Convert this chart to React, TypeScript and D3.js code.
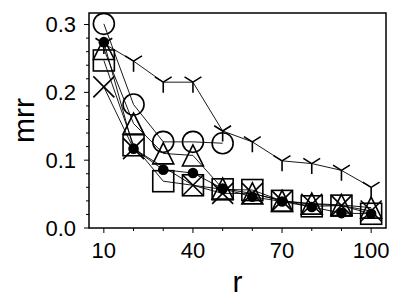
import React from 'react'
import * as d3 from 'd3'

// r values on the x axis
const rValues = [10, 20, 30, 40, 50, 60, 70, 80, 90, 100]

// mrr per series (null = no point)
const circleMrr = [0.301, 0.182, 0.127, 0.127, 0.125, null, null, null, null, null]
const triDownMrr = [0.272, 0.246, 0.215, 0.215, 0.143, 0.127, 0.099, 0.095, 0.085, 0.060]
const triangleMrr = [0.264, 0.154, 0.110, 0.107, 0.058, 0.051, 0.040, 0.036, 0.034, 0.030]
const squareMrr = [0.247, 0.122, 0.069, 0.063, 0.057, 0.056, 0.040, 0.032, 0.033, 0.021]
const crossMrr = [0.208, 0.117, null, 0.063, 0.051, 0.051, 0.040, 0.035, 0.033, 0.025]
const dotMrr = [0.274, 0.117, 0.086, 0.081, 0.058, 0.046, 0.039, 0.031, 0.022, 0.021]

const xTicks = [10, 40, 70, 100]
const xMinor = [20, 30, 50, 60, 80, 90]
const yTicks = [0.0, 0.1, 0.2, 0.3]
const yMinor = [0.02, 0.04, 0.06, 0.08, 0.12, 0.14, 0.16, 0.18, 0.22, 0.24, 0.26, 0.28]

type Kind = 'circle' | 'triDown' | 'triangle' | 'square' | 'cross' | 'dot'

const series: { kind: Kind; values: (number | null)[] }[] = [
  { kind: 'circle', values: circleMrr },
  { kind: 'triDown', values: triDownMrr },
  { kind: 'square', values: squareMrr },
  { kind: 'triangle', values: triangleMrr },
  { kind: 'cross', values: crossMrr },
  { kind: 'dot', values: dotMrr },
]

const W = 399
const H = 300
const margin = { top: 13, right: 13, bottom: 72, left: 89 }
const font = '"Liberation Sans", Arial, Helvetica, sans-serif'

function Marker({ kind, x, y }: { kind: Kind; x: number; y: number }) {
  const s = 10.5
  const common = { fill: 'none', stroke: '#000', strokeWidth: 1.6 }
  switch (kind) {
    case 'circle':
      return <circle cx={x} cy={y} r={s} {...common} />
    case 'dot':
      return <circle cx={x} cy={y} r={5.3} fill="#000" />
    case 'square':
      return <rect x={x - s} y={y - s} width={2 * s} height={2 * s} {...common} />
    case 'triangle':
      return <path d={`M${x},${y - s}L${x - s},${y + s}L${x + s},${y + s}Z`} {...common} />
    case 'cross':
      return <path d={`M${x - s},${y - s}L${x + s},${y + s}M${x - s},${y + s}L${x + s},${y - s}`} {...common} />
    case 'triDown':
      return (
        <path
          d={`M${x},${y}L${x},${y + s}M${x},${y}L${x + 0.8 * s},${y - 0.5 * s}M${x},${y}L${x - 0.8 * s},${y - 0.5 * s}`}
          {...common}
        />
      )
  }
}

export default function App() {
  const innerW = W - margin.left - margin.right
  const innerH = H - margin.top - margin.bottom

  const x = d3.scaleLinear().domain([5, 105]).range([margin.left, margin.left + innerW])
  const y = d3.scaleLinear().domain([0, 0.317]).range([margin.top + innerH, margin.top])

  const line = d3.line<[number, number]>()
    .x(d => x(d[0]))
    .y(d => y(d[1]))

  const bottom = margin.top + innerH
  const left = margin.left

  return (
    <div style={{ position: 'absolute', left: 0, top: 0 }}>
      <svg width={W} height={H} style={{ display: 'block', background: '#fff' }}>
        {/* lines */}
        {series.map(s => {
          const pts = rValues
            .map((r, i) => [r, s.values[i]] as [number, number | null])
            .filter(p => p[1] !== null) as [number, number][]
          return <path key={s.kind + '-line'} d={line(pts) || ''} fill="none" stroke="#000" strokeWidth={0.9} />
        })}
        {/* markers */}
        {series.map(s =>
          rValues.map((r, i) => {
            const v = s.values[i]
            if (v === null) return null
            return <Marker key={s.kind + r} kind={s.kind} x={x(r)} y={y(v)} />
          })
        )}

        {/* frame */}
        <rect x={left} y={margin.top} width={innerW} height={innerH} fill="none" stroke="#000" strokeWidth={1.5} />

        {/* x ticks */}
        {xTicks.map(t => (
          <g key={'xt' + t}>
            <line x1={x(t)} x2={x(t)} y1={bottom} y2={bottom + 5} stroke="#000" strokeWidth={1} />
            <text x={x(t)} y={bottom + 30} textAnchor="middle" fontSize={22} fontFamily={font}>{t}</text>
          </g>
        ))}
        {xMinor.map(t => (
          <line key={'xm' + t} x1={x(t)} x2={x(t)} y1={bottom} y2={bottom + 3} stroke="#000" strokeWidth={1} />
        ))}

        {/* y ticks */}
        {yTicks.map(t => (
          <g key={'yt' + t}>
            <line x1={left - 5} x2={left} y1={y(t)} y2={y(t)} stroke="#000" strokeWidth={1} />
            <text x={left - 13} y={y(t)} dy="0.36em" textAnchor="end" fontSize={22} fontFamily={font}>{t.toFixed(1)}</text>
          </g>
        ))}
        {yMinor.map(t => (
          <line key={'ym' + t} x1={left - 3} x2={left} y1={y(t)} y2={y(t)} stroke="#000" strokeWidth={1} />
        ))}

        {/* axis labels */}
        <text x={left + innerW / 2} y={292} textAnchor="middle" fontSize={30} fontFamily={font}>r</text>
        <text
          transform={`translate(34,${margin.top + innerH / 2}) rotate(-90)`}
          textAnchor="middle"
          fontSize={30}
          fontFamily={font}
        >mrr</text>
      </svg>
    </div>
  )
}
